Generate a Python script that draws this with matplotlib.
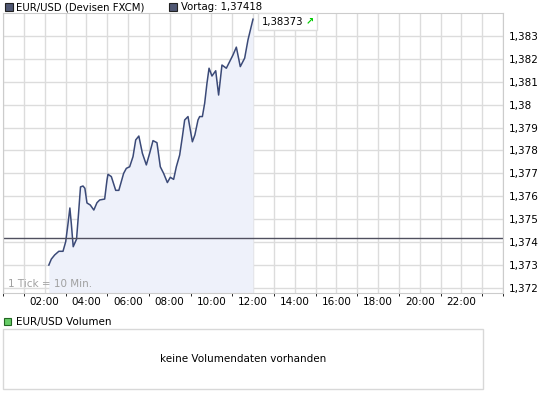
import matplotlib
matplotlib.use("Agg")
import matplotlib.pyplot as plt
from matplotlib.patches import Rectangle
from matplotlib.ticker import FuncFormatter, MultipleLocator

# intraday EUR/USD quotes (hour of day, price)
hours = [2.20, 2.32, 2.48, 2.68, 2.88, 3.01, 3.12, 3.21, 3.28, 3.37, 3.53, 3.63,
         3.72, 3.84, 3.93, 4.03, 4.19, 4.36, 4.51, 4.64, 4.88, 4.99, 5.04, 5.20,
         5.41, 5.56, 5.79, 5.92, 6.08, 6.24, 6.37, 6.52, 6.69, 6.88, 7.04, 7.20,
         7.39, 7.55, 7.71, 7.89, 8.03, 8.19, 8.32, 8.48, 8.61, 8.72, 8.88, 8.99,
         9.09, 9.21, 9.36, 9.44, 9.57, 9.68, 9.79, 9.89, 10.03, 10.21, 10.35,
         10.51, 10.72, 10.88, 11.04, 11.20, 11.39, 11.60, 11.76, 12.00]
price = [1.37300, 1.37326, 1.37344, 1.37360, 1.37360, 1.37402, 1.37480, 1.37549,
         1.37480, 1.37380, 1.37413, 1.37530, 1.37641, 1.37645, 1.37635, 1.37571,
         1.37562, 1.37540, 1.37572, 1.37584, 1.37588, 1.37670, 1.37696, 1.37686,
         1.37626, 1.37626, 1.37700, 1.37722, 1.37729, 1.37773, 1.37846, 1.37863,
         1.37788, 1.37737, 1.37788, 1.37843, 1.37834, 1.37729, 1.37700, 1.37660,
         1.37683, 1.37674, 1.37729, 1.37780, 1.37860, 1.37933, 1.37948, 1.37890,
         1.37838, 1.37868, 1.37933, 1.37948, 1.37948, 1.38006, 1.38093, 1.38159,
         1.38125, 1.38148, 1.38042, 1.38173, 1.38159, 1.38188, 1.38217, 1.38251,
         1.38166, 1.38203, 1.38283, 1.38373]
prev_close = 1.37418
last_price = "1,38373"
xtick_hours = list(range(2, 24, 2))

W, H = 545, 398
fig = plt.figure(figsize=(W / 100, H / 100), dpi=100)
plt.rcParams['font.family'] = ['DejaVu Sans']


def fx(px):
    return px / W


def fy(py):
    return 1 - py / H


grid_c = "#dcdcdc"
line_c = "#3b4a78"

ax = fig.add_axes([fx(3), fy(293), fx(500), 280 / H])
ax.set_xlim(0, 24)
ax.set_ylim(1.37178, 1.3840)
ax.fill_between(hours, price, 1.37178, color="#eef1fa", lw=0)
ax.plot(hours, price, color=line_c, lw=1.1)
ax.axhline(prev_close, color="#50505f", lw=1)

ax.xaxis.set_minor_locator(MultipleLocator(1))
ax.set_xticks(xtick_hours)
ax.set_xticklabels(["%02d:00" % h for h in xtick_hours])
ax.set_yticks([1.372 + 0.001 * i for i in range(12)])
ax.yaxis.set_major_formatter(FuncFormatter(
    lambda v, p: ("%.3f" % v).rstrip("0").replace(".", ",")))
ax.yaxis.tick_right()
ax.grid(True, which="both", color=grid_c, lw=1)
ax.set_axisbelow(True)
ax.tick_params(length=0, labelsize=7.5, colors="#000000")
ax.tick_params(axis="y", pad=4)
ax.tick_params(axis="x", pad=3)
for s in ax.spines.values():
    s.set_color("#cccccc")

ax.text(0.01, 0.015, "1 Tick = 10 Min.", transform=ax.transAxes,
        fontsize=7.5, color="#a0a0a0", va="bottom", ha="left")

# header legend
fig.add_artist(Rectangle((fx(5), fy(11)), fx(8), 8 / H, transform=fig.transFigure,
                         facecolor="#4f5773", edgecolor="#222222", lw=0.8))
fig.text(fx(16), fy(7), "EUR/USD (Devisen FXCM)", fontsize=7.3, va="center")
fig.add_artist(Rectangle((fx(169), fy(11)), fx(8), 8 / H, transform=fig.transFigure,
                         facecolor="#4f5773", edgecolor="#222222", lw=0.8))
fig.text(fx(181), fy(7), "Vortag: 1,37418", fontsize=7.3, va="center")

# last price callout
fig.add_artist(Rectangle((fx(258), fy(30)), fx(59), 17 / H, transform=fig.transFigure,
                         facecolor="white", edgecolor="#dddddd", lw=1))
fig.text(fx(262), fy(21.5), last_price, fontsize=7.3, va="center")
fig.text(fx(306), fy(21.5), "\u2197", fontsize=7, va="center", color="#00cc00",
         fontweight="bold")

# volume panel
fig.add_artist(Rectangle((fx(4), fy(325)), fx(7), 7 / H, transform=fig.transFigure,
                         facecolor="#66cc66", edgecolor="#226622", lw=0.8))
fig.text(fx(16), fy(321.5), "EUR/USD Volumen", fontsize=7.5, va="center")
fig.add_artist(Rectangle((fx(2.5), fy(389)), fx(480.5), 60 / H, transform=fig.transFigure,
                         facecolor="white", edgecolor="#d8d8d8", lw=1))
fig.text(fx(243), fy(359), "keine Volumendaten vorhanden", fontsize=7.5,
         va="center", ha="center")

fig.savefig("out.png", dpi=100)
